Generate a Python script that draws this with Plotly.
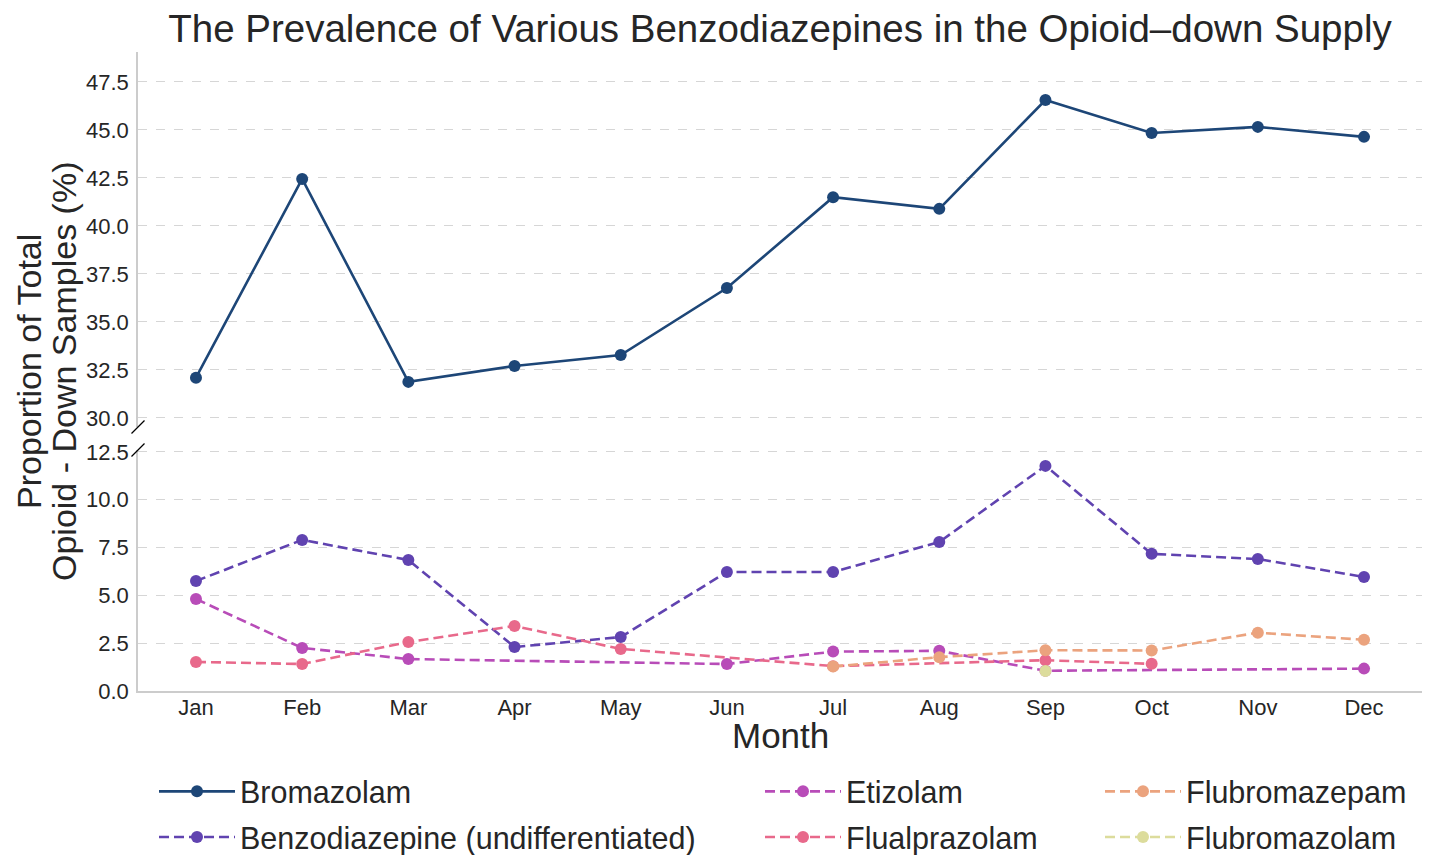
import plotly.graph_objects as go

months = ["Jan", "Feb", "Mar", "Apr", "May", "Jun", "Jul", "Aug", "Sep", "Oct", "Nov", "Dec"]
bromazolam = [32.1, 42.45, 31.88, 32.71, 33.28, 36.77, 41.5, 40.89, 46.56, 44.84, 45.16, 44.64]
benzo_undiff = [5.75, 7.9, 6.85, 2.3, 2.82, 6.22, 6.22, 7.79, 11.77, 7.17, 6.9, 5.96]
etizolam = [4.81, 2.25, 1.67, None, None, 1.41, 2.06, 2.1, 1.06, None, None, 1.17]
flualprazolam = [1.52, 1.41, 2.56, 3.4, 2.2, None, 1.3, None, 1.61, 1.42, None, None]
flubromazepam = [None, None, None, None, None, None, 1.28, 1.77, 2.13, 2.12, 3.05, 2.68]
flubromazolam = [None, None, None, None, None, None, None, None, 1.05, None, None, None]

upper_ticks = [30.0, 32.5, 35.0, 37.5, 40.0, 42.5, 45.0, 47.5]
lower_ticks = [0.0, 2.5, 5.0, 7.5, 10.0, 12.5]

series = [
    ("Bromazolam", bromazolam, "#1d4677", "solid", "y", "legend"),
    ("Benzodiazepine (undifferentiated)", benzo_undiff, "#6043b0", "dash", "y2", "legend"),
    ("Etizolam", etizolam, "#b84cb8", "dash", "y2", "legend2"),
    ("Flualprazolam", flualprazolam, "#e8698b", "dash", "y2", "legend2"),
    ("Flubromazepam", flubromazepam, "#eba37e", "dash", "y2", "legend3"),
    ("Flubromazolam", flubromazolam, "#dcdc9c", "dash", "y2", "legend3"),
]

FONT = "Liberation Sans, Arial, sans-serif"
fig = go.Figure()
for i, (name, vals, color, dash, yax, leg) in enumerate(series):
    fig.add_trace(go.Scatter(
        x=months, y=vals, name=name, mode="lines+markers",
        connectgaps=True, yaxis=yax, legend=leg, legendgroup=name,
        line=dict(color=color, width=2.6, dash=("solid" if dash == "solid" else "10px,5px")),
        marker=dict(color=color, size=12),
    ))

# page body has an 8px margin: work in figure pixels = screenshot pixels - 8
OFF = 8
W, H = 1430 - OFF, 855 - OFF
ml, mr, mt, mb = 138 - OFF, 8, 52 - OFF, 164
pw = W - ml - mr
ph = H - mt - mb
plot_bottom = H - mb            # figure px
upper_bottom_px = 427 - OFF
lower_top_px = 450 - OFF
up_dom = [(plot_bottom - upper_bottom_px) / ph, 1.0]
lo_dom = [0.0, (plot_bottom - lower_top_px) / ph]

grid = dict(showgrid=True, gridcolor="#d6d6d6", griddash="dash", gridwidth=1)
tickfont = dict(family=FONT, size=22, color="#262626")
legfont = dict(family=FONT, size=30.5, color="#262626")
leg_top = 1 - 757 / H

fig.update_layout(
    width=W, height=H,
    margin=dict(l=ml, r=mr, t=mt, b=mb, autoexpand=False),
    plot_bgcolor="white", paper_bgcolor="white",
    font=dict(family=FONT, color="#262626"),
    title=dict(text="The Prevalence of Various Benzodiazepines in the Opioid\u2013down Supply",
               x=0.5, xref="paper", xanchor="center",
               y=1 - 21 / H, yref="container", yanchor="middle",
               font=dict(family=FONT, size=38.5, color="#262626")),
    xaxis=dict(anchor="y2", range=[-0.546, 11.546], showgrid=False,
               showline=True, linecolor="#cccccc", linewidth=1.5,
               ticks="", tickfont=tickfont, zeroline=False, ticklabelstandoff=-4),
    yaxis=dict(domain=up_dom, range=[29.53, 49.06], tickvals=upper_ticks,
               tickformat=".1f", showline=True, linecolor="#cccccc", linewidth=1.5,
               ticks="", tickfont=tickfont, zeroline=False, ticklabelstandoff=3, **grid),
    yaxis2=dict(domain=lo_dom, range=[0, 12.6], tickvals=lower_ticks,
                tickformat=".1f", showline=True, linecolor="#cccccc", linewidth=1.5,
                ticks="", tickfont=tickfont, zeroline=False, ticklabelstandoff=3, **grid),
    legend=dict(xref="container", yref="container", x=146 / W, y=leg_top,
                xanchor="left", yanchor="top", orientation="v", font=legfont,
                itemwidth=76, tracegroupgap=3, bgcolor="rgba(0,0,0,0)"),
    legend2=dict(xref="container", yref="container", x=752 / W, y=leg_top,
                 xanchor="left", yanchor="top", orientation="v", font=legfont,
                 itemwidth=76, tracegroupgap=3, bgcolor="rgba(0,0,0,0)"),
    legend3=dict(xref="container", yref="container", x=1092 / W, y=leg_top,
                 xanchor="left", yanchor="top", orientation="v", font=legfont,
                 itemwidth=76, tracegroupgap=3, bgcolor="rgba(0,0,0,0)"),
    showlegend=True,
)

# axis titles as annotations (positions from reference screenshot pixels)
def px_to_paper_y(py):
    return (plot_bottom - (py - OFF)) / ph

def px_to_paper_x(px):
    return ((px - OFF) - ml) / pw

fig.add_annotation(text="Month", x=0.5, xref="paper", y=px_to_paper_y(735), yref="paper",
                   xanchor="center", yanchor="middle", showarrow=False,
                   font=dict(family=FONT, size=35, color="#262626"))
ycen = px_to_paper_y(372)
fig.add_annotation(text="Proportion of Total", x=px_to_paper_x(29), xref="paper", y=ycen, yref="paper",
                   textangle=-90, xanchor="center", yanchor="middle", showarrow=False,
                   font=dict(family=FONT, size=34, color="#262626"))
fig.add_annotation(text="Opioid - Down Samples (%)", x=px_to_paper_x(64), xref="paper", y=ycen, yref="paper",
                   textangle=-90, xanchor="center", yanchor="middle", showarrow=False,
                   font=dict(family=FONT, size=34, color="#262626"))

# broken-axis diagonal marks
dx, dy = 6.5 / pw, 6.5 / ph
for yc in (up_dom[0], lo_dom[1]):
    fig.add_shape(type="line", xref="paper", yref="paper",
                  x0=-dx, y0=yc - dy, x1=dx, y1=yc + dy,
                  line=dict(color="black", width=1.3))

fig.write_html("out.html")
